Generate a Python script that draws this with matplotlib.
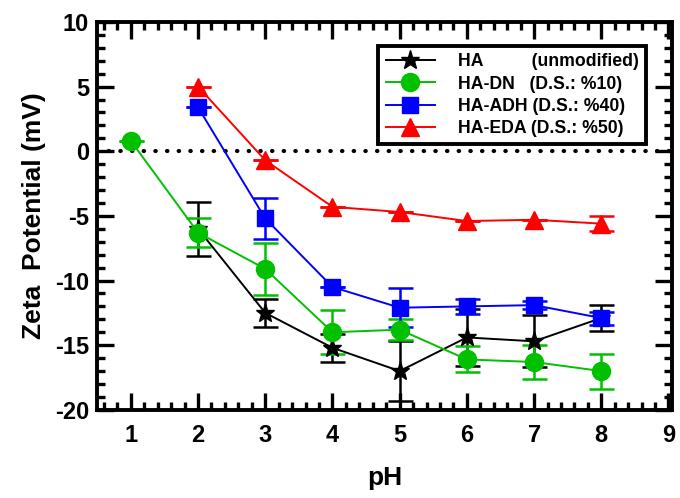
import matplotlib.pyplot as plt
from matplotlib.ticker import MultipleLocator

plt.rcParams['font.family'] = ['Liberation Sans', 'DejaVu Sans']
plt.rcParams['font.weight'] = 'bold'
plt.rcParams['axes.unicode_minus'] = False

# HA (unmodified)
ha_x = [2, 3, 4, 5, 6, 7, 8]
ha_y = [-6.0, -12.5, -15.2, -17.0, -14.4, -14.7, -12.9]
ha_err = [2.1, 1.1, 1.1, 2.3, 2.2, 2.0, 1.0]

# HA-DN
dn_x = [1, 2, 3, 4, 5, 6, 7, 8]
dn_y = [0.8, -6.3, -9.1, -14.0, -13.8, -16.1, -16.3, -17.0]
dn_err = [0.0, 1.1, 2.0, 1.7, 0.8, 1.0, 1.3, 1.35]

# HA-ADH
adh_x = [2, 3, 4, 5, 6, 7, 8]
adh_y = [3.4, -5.2, -10.5, -12.1, -12.0, -11.9, -12.9]
adh_err = [0.0, 1.6, 0.0, 1.5, 0.6, 0.3, 0.5]

# HA-EDA
eda_x = [2, 3, 4, 5, 6, 7, 8]
eda_y = [5.0, -0.7, -4.3, -4.7, -5.4, -5.3, -5.6]
eda_err = [0.0, 0.0, 0.0, 0.0, 0.0, 0.0, 0.6]

labels = ['HA          (unmodified)', 'HA-DN   (D.S.: %10)',
          'HA-ADH (D.S.: %40)', 'HA-EDA (D.S.: %50)']

fig = plt.figure(figsize=(6.8, 4.98), dpi=100)
ax = fig.add_axes([0.143, 0.177, 0.845, 0.779])

# zero line
ax.axhline(0, color='black', lw=3, linestyle=(0, (0.1, 2.7)),
           dash_capstyle='round', zorder=1)

series = [
    (ha_x, ha_y, ha_err, 'black', '*', 14),
    (dn_x, dn_y, dn_err, '#00c000', 'o', 13),
    (adh_x, adh_y, adh_err, '#0000ff', 's', 11.5),
    (eda_x, eda_y, eda_err, '#ff0000', '^', 13),
]
handles = []
for (x, y, e, c, m, ms), lab in zip(series, labels):
    eb = ax.errorbar(x, y, yerr=e, color=c, marker=m, ms=ms, lw=1.4,
                     elinewidth=1.8, capsize=9, capthick=1.8, label=lab)
    handles.append(eb[0])

ax.set_xlim(0.5, 9.05)
ax.set_ylim(-20, 10)
ax.xaxis.set_major_locator(MultipleLocator(1))
ax.xaxis.set_minor_locator(MultipleLocator(0.2))
ax.yaxis.set_major_locator(MultipleLocator(5))
ax.yaxis.set_minor_locator(MultipleLocator(1))
ax.set_xticks(range(1, 10))

ax.tick_params(which='both', direction='in', top=True, right=True, width=2.4)
ax.tick_params(which='major', length=12, labelsize=17)
ax.tick_params(which='minor', length=6)
ax.tick_params(axis='x', which='major', pad=10)
ax.tick_params(axis='y', which='major', pad=6)
for s in ax.spines.values():
    s.set_linewidth(2.8)

ax.set_xlabel('pH', fontsize=19, fontweight='bold', labelpad=14)
ax.set_ylabel('Zeta  Potential (mV)', fontsize=19, fontweight='bold', labelpad=6)

leg = ax.legend(handles, labels, loc='upper right', bbox_to_anchor=(0.97, 0.96),
                frameon=True, fancybox=False, edgecolor='black', framealpha=1,
                handlelength=2.8, handletextpad=1.3, borderpad=0.4,
                labelspacing=0.3, prop={'weight': 'bold', 'size': 12.7})
leg.get_frame().set_linewidth(2.8)

fig.savefig('out.png', dpi=100)
